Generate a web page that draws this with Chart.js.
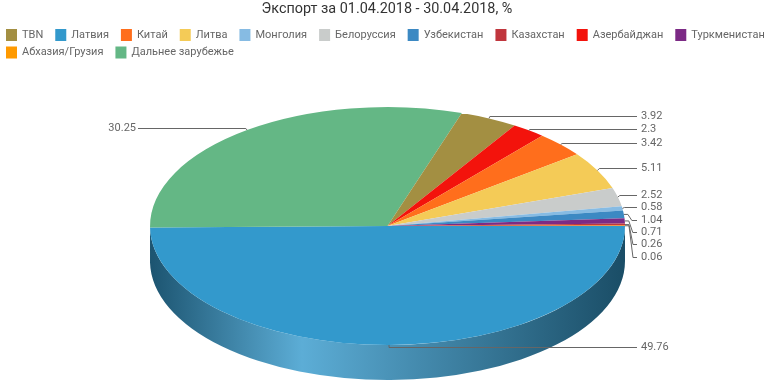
<!DOCTYPE html>
<html>
<head>
<meta charset="utf-8">
<script src="https://cdn.jsdelivr.net/npm/chart.js@4.4.1/dist/chart.umd.min.js"></script>
<style>
  html, body { margin: 0; padding: 0; background: #fff; }
</style>
</head>
<body>
<canvas id="chart" width="774" height="387"></canvas>
<script>
// Categories, in legend order
const categories = ['TBN', 'Латвия', 'Китай', 'Литва', 'Монголия', 'Белоруссия', 'Узбекистан',
    'Казахстан', 'Азербайджан', 'Туркменистан', 'Абхазия/Грузия', 'Дальнее зарубежье'];
const values = [3.92, 49.76, 3.42, 5.11, 0.58, 2.52, 1.04, 0.26, 2.3, 0.71, 0.06, 30.25];
const colors = ['#a38f42', '#3399cc', '#ff6e1c', '#f4cb57', '#86bbe3', '#c9cccb', '#3c89c3',
    '#c0363d', '#f3130c', '#7c2a85', '#ff9a00', '#64b785'];
// Slices run clockwise from 3 o'clock in this order
const sliceOrder = ['Латвия', 'Дальнее зарубежье', 'TBN', 'Азербайджан', 'Китай', 'Литва',
    'Белоруссия', 'Монголия', 'Узбекистан', 'Туркменистан', 'Казахстан', 'Абхазия/Грузия'];

const titleText = 'Экспорт за 01.04.2018 - 30.04.2018, %';

const FONT = 'Roboto, "Liberation Sans", sans-serif';
const PIE = { cx: 387.5, cy: 226, rx: 237.5, ry: 119, depth: 35 };

const sliceIdx = sliceOrder.map(name => categories.indexOf(name));
const sliceValues = sliceIdx.map(i => values[i]);
const sliceColors = sliceIdx.map(i => colors[i]);

function shade(hex, amt) {
    const n = parseInt(hex.slice(1), 16);
    const rgb = [n >> 16, (n >> 8) & 255, n & 255];
    const f = amt < 0 ? v => v * (1 + amt) : v => v + (255 - v) * amt;
    return 'rgb(' + rgb.map(v => Math.round(f(v))).join(',') + ')';
}

function drawCallouts(chart) {
    const ctx = chart.ctx;
    const arcs = chart.getDatasetMeta(0).data;
    const { cx, cy, rx, ry } = PIE;
    const sides = { right: [], left: [] };

    arcs.forEach((arc, i) => {
        const mid = (arc.startAngle + arc.endAngle) / 2;
        const c = Math.cos(mid), s = Math.sin(mid);
        const ay = cy + ry * s;
        sides[c >= 0 ? 'right' : 'left'].push({
            text: String(sliceValues[i]),
            ax: cx + rx * c, ay, c,
            ly: ay + (s < 0 ? -2 : 2)
        });
    });

    ctx.save();
    ctx.strokeStyle = '#666';
    ctx.lineWidth = 1;
    ctx.fillStyle = '#666';
    ctx.font = '11px ' + FONT;
    ctx.textBaseline = 'middle';

    Object.keys(sides).forEach(side => {
        const list = sides[side].sort((a, b) => a.ay - b.ay);
        const dir = side === 'right' ? 1 : -1;
        const lineEnd = side === 'right' ? cx + rx + 12 : cx - rx - 12;
        const textX = side === 'right' ? cx + rx + 16 : cx - rx - 14;
        list.forEach((it, k) => {
            if (k > 0) it.ly = Math.max(it.ly, list[k - 1].ly + 12.3);
            const ly = Math.round(it.ly) + 0.5;
            const pushed = it.ly - it.ay > 3;
            ctx.beginPath();
            ctx.moveTo(it.ax, it.ay);
            if (pushed) {
                ctx.lineTo(it.ax + 4 * dir, it.ay);
                ctx.lineTo(it.ax + 8 * dir, ly);
            } else {
                ctx.lineTo(it.ax + 2 * it.c, ly);
            }
            ctx.lineTo(lineEnd, ly);
            ctx.stroke();
            ctx.textAlign = side === 'right' ? 'left' : 'right';
            ctx.fillText(it.text, textX, ly);
        });
    });
    ctx.restore();
}

function drawLegend(chart) {
    const ctx = chart.ctx;
    ctx.save();
    ctx.font = '11px ' + FONT;
    ctx.textBaseline = 'middle';
    let x = 6, y = 35;
    categories.forEach((name, i) => {
        const w = 16 + ctx.measureText(name).width;
        if (x + w > chart.width) {
            x = 6;
            y += 17.5;
        }
        ctx.fillStyle = colors[i];
        ctx.fillRect(x, y - 6, 11, 12);
        ctx.fillStyle = '#666';
        ctx.fillText(name, x + 16, y);
        x += w + 12;
    });
    ctx.restore();
}

// Side wall + squashed top face + callouts
const pie3d = {
    id: 'pie3d',
    beforeDatasetsDraw(chart) {
        const ctx = chart.ctx;
        const arcs = chart.getDatasetMeta(0).data;
        const { cx, cy, rx, ry, depth } = PIE;

        ctx.save();
        arcs.forEach(arc => {
            const a1 = Math.max(arc.startAngle, 0);
            const a2 = Math.min(arc.endAngle, Math.PI);
            if (a2 <= a1) return;
            const base = arc.options.backgroundColor;
            const g = ctx.createLinearGradient(cx - rx, 0, cx + rx, 0);
            g.addColorStop(0, shade(base, -0.45));
            g.addColorStop(0.32, shade(base, 0.2));
            g.addColorStop(1, shade(base, -0.5));
            ctx.beginPath();
            ctx.ellipse(cx, cy, rx, ry, 0, a1, a2, false);
            ctx.ellipse(cx, cy + depth, rx, ry, 0, a2, a1, true);
            ctx.closePath();
            ctx.fillStyle = g;
            ctx.fill();
        });
        ctx.restore();

        const a0 = arcs[0];
        ctx.save();
        ctx.translate(cx, cy);
        ctx.scale(1, ry / rx);
        ctx.translate(-a0.x, -a0.y);
    },
    afterDatasetsDraw(chart) {
        chart.ctx.restore();
        drawCallouts(chart);
    },
    afterDraw(chart) {
        drawLegend(chart);
    }
};

new Chart(document.getElementById('chart'), {
    type: 'pie',
    data: {
        labels: sliceOrder,
        datasets: [{
            data: sliceValues,
            backgroundColor: sliceColors,
            borderWidth: 0,
            radius: PIE.rx,
            clip: false
        }]
    },
    options: {
        responsive: false,
        animation: false,
        events: [],
        rotation: 90,
        plugins: {
            legend: { display: false },
            tooltip: { enabled: false },
            title: {
                display: true,
                text: titleText,
                color: '#333',
                font: { family: FONT, size: 14.4, weight: 'normal' },
                padding: { top: 1, bottom: 0 }
            }
        }
    },
    plugins: [pie3d]
});
</script>
</body>
</html>
